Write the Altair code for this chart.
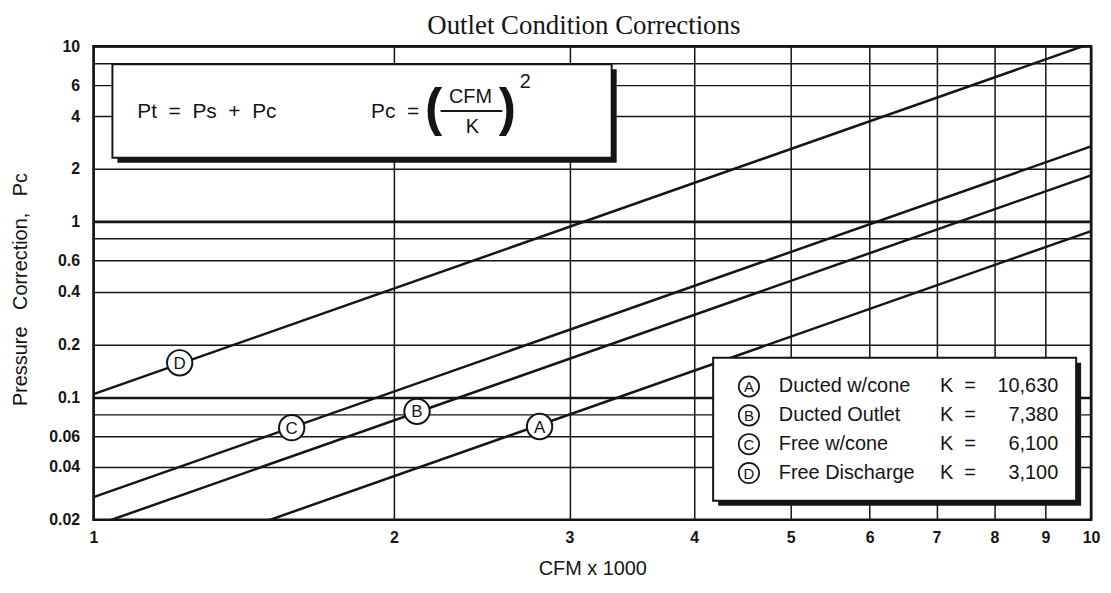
import altair as alt
import pandas as pd

# ---------------- data ----------------
curve_ids = ["A", "B", "C", "D"]
curve_names = ["Ducted w/cone", "Ducted Outlet", "Free w/cone", "Free Discharge"]
k_labels = ["10,630", "7,380", "6,100", "3,100"]
line_x = [1, 10]                      # CFM x 1000 at both line ends
pc_at_start = [0.00885, 0.0184, 0.0269, 0.104]
pc_at_end = [0.885, 1.84, 2.69, 10.4]
marker_x = [2.80, 2.11, 1.58, 1.22]
marker_y = [0.068, 0.083, 0.067, 0.157]
x_ticks = [1, 2, 3, 4, 5, 6, 7, 8, 9, 10]
y_grid = [0.02, 0.04, 0.06, 0.08, 0.1, 0.2, 0.4, 0.6, 0.8, 1, 2, 4, 6, 8, 10]
y_unlabeled = [0.08, 0.8, 8]
y_bold = [0.1, 1]

SANS = "Liberation Sans"
SERIF = "Liberation Serif"
INK = "#151515"
NB = "\u00a0"  # non-breaking space (SVG collapses ordinary runs of spaces)

rows = []
for cid, a, b in zip(curve_ids, pc_at_start, pc_at_end):
    rows.append({"curve": cid, "x": line_x[0], "y": a})
    rows.append({"curve": cid, "x": line_x[1], "y": b})
lines_df = pd.DataFrame(rows)
markers_df = pd.DataFrame({"curve": curve_ids, "x": marker_x, "y": marker_y})
one = pd.DataFrame({"k": [0]})

unl = " || ".join(f"datum.value == {v}" for v in y_unlabeled)
bold_test = " || ".join(f"datum.value == {v}" for v in y_bold)

x_enc = alt.X(
    "x:Q",
    scale=alt.Scale(type="log", domain=[1, 10], nice=False),
    axis=alt.Axis(
        values=x_ticks, format="~g", grid=True, gridColor=INK, gridWidth=1.5,
        domain=False, ticks=False, labelFlush=False, labelOverlap=False,
        labelFont=SANS, labelFontSize=16, labelFontWeight="bold", labelColor=INK,
        labelPadding=10, labelBaseline="top",
        title="CFM x 1000", titleFont=SANS, titleFontSize=20, titleFontWeight="normal",
        titleColor=INK, titleY=55, titleBaseline="alphabetic",
    ),
)
y_enc = alt.Y(
    "y:Q",
    scale=alt.Scale(type="log", domain=[0.02, 10], nice=False),
    axis=alt.Axis(
        values=y_grid, grid=True, gridColor=INK,
        gridWidth={"condition": {"test": bold_test, "value": 2.6}, "value": 1.4},
        domain=False, ticks=False, labelOverlap=False, labelFlush=False,
        labelExpr=f"({unl}) ? '' : format(datum.value, '~g')",
        labelFont=SANS, labelFontSize=16, labelFontWeight="bold", labelColor=INK,
        labelPadding=14,
        title=f"Pressure{NB}{NB}{NB}Correction,{NB}{NB}{NB}Pc", titleFont=SANS,
        titleFontSize=20, titleFontWeight="normal", titleColor=INK,
        titleX=-73, titleY=244, titleAngle=270, titleBaseline="middle",
        titleAlign="center",
    ),
)

lines = alt.Chart(lines_df).mark_line(clip=True, color=INK, strokeWidth=2.5).encode(
    x=x_enc, y=y_enc, detail="curve:N"
)
markers = alt.Chart(markers_df).mark_point(
    shape="circle", filled=True, fill="white", stroke=INK, strokeWidth=2,
    size=650, opacity=1,
).encode(x="x:Q", y="y:Q")
marker_txt = alt.Chart(markers_df).mark_text(
    font=SANS, fontSize=17, color=INK, baseline="middle", align="center", dy=1
).encode(x="x:Q", y="y:Q", text="curve:N")


def rect(x1, x2, y1, y2, fill, stroke=None, sw=0):
    kw = dict(fill=fill)
    if stroke:
        kw.update(stroke=stroke, strokeWidth=sw)
    return alt.Chart(one).mark_rect(**kw).encode(
        x=alt.value(x1), x2=alt.value(x2), y=alt.value(y1), y2=alt.value(y2)
    )


def txt(s, x, y, size, align="left", weight="normal", baseline="alphabetic", font=SANS):
    return alt.Chart(one).mark_text(
        font=font, fontSize=size, fontWeight=weight, align=align,
        baseline=baseline, color=INK,
    ).encode(x=alt.value(x), y=alt.value(y), text=alt.value(s))


layers = [lines, markers, marker_txt]

# formula box
sp2 = NB * 2
layers += [
    rect(24, 526, 23, 117, INK),
    rect(19, 521, 18, 112, "white", INK, 2),
    txt(f"Pt{sp2}={sp2}Ps{sp2}+{sp2}Pc", 44, 72, 21),
    txt(f"Pc{sp2}=", 279, 72, 21),
    txt("(", 342, 79, 52, align="center", weight="bold"),
    txt(")", 416, 79, 52, align="center", weight="bold"),
    txt("CFM", 379, 57, 20, align="center"),
    txt("K", 381, 87, 20, align="center"),
    txt("2", 434, 42, 20, align="center"),
    alt.Chart(one).mark_rule(color=INK, strokeWidth=2.2).encode(
        x=alt.value(349), x2=alt.value(411), y=alt.value(65)
    ),
]

# legend box
layers += [
    rect(628, 993, 318, 462, INK),
    rect(623, 988, 313, 457, "white", INK, 2),
]
row_y = [342, 371, 400, 429]
for cid, name, kv, ry in zip(curve_ids, curve_names, k_labels, row_y):
    layers += [
        alt.Chart(one).mark_point(
            shape="circle", filled=True, fill="white", stroke=INK, strokeWidth=1.7,
            size=420, opacity=1,
        ).encode(x=alt.value(659), y=alt.value(ry)),
        txt(cid, 659, ry + 1, 15, align="center", baseline="middle"),
        txt(name, 689, ry, 20, baseline="middle"),
        txt(f"K{sp2}=", 851, ry, 20, baseline="middle"),
        txt(kv, 970, ry, 20, align="right", baseline="middle"),
    ]

# chart title
layers.append(txt("Outlet Condition Corrections", 493, -12, 27, align="center", font=SERIF))

chart = (
    alt.layer(*layers)
    .properties(
        width=1003, height=476,
        autosize=alt.AutoSizeParams(type="none"),
        padding={"left": 86, "top": 37, "right": 12, "bottom": 60},
        background="white",
    )
    .configure_view(stroke=INK, strokeWidth=2.6)
)

chart.save("out.html", embed_options={"renderer": "svg", "actions": False})
